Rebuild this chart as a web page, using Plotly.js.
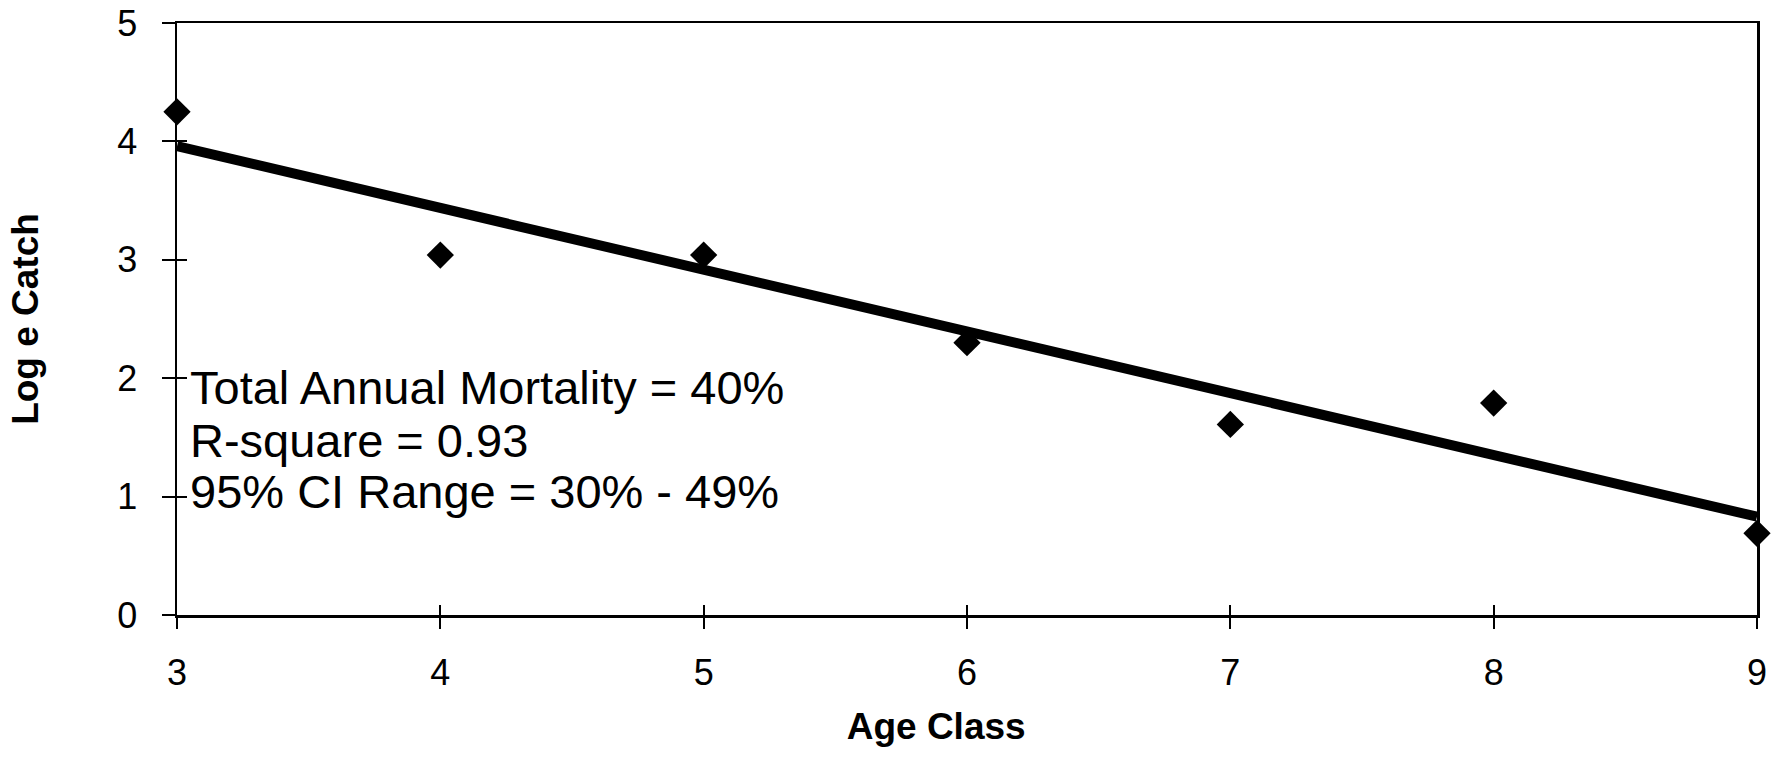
<!DOCTYPE html>
<html>
<head>
<meta charset="utf-8">
<script src="https://cdn.plot.ly/plotly-3.0.1.min.js"></script>
<style>
  html, body { margin: 0; padding: 0; background: #ffffff; }
  #chart { width: 1792px; height: 760px; }
</style>
</head>
<body>
<div id="chart"></div>
<script>
// Data
const ageClass = [3, 4, 5, 6, 7, 8, 9];
const logCatch = [4.25, 3.04, 3.04, 2.30, 1.61, 1.79, 0.69];
const trendAge = [3, 9];
const trendLogCatch = [3.96, 0.83];
const xTicks = [3, 4, 5, 6, 7, 8, 9];
const yTicks = [0, 1, 2, 3, 4, 5];
const statLines = [
  "Total Annual Mortality = 40%",
  "R-square = 0.93",
  "95% CI Range = 30% - 49%"
];
const statY = [1.92, 1.47, 1.04];

const FONT = "Liberation Sans, Arial, Helvetica, sans-serif";
const NBSP = "\u00A0";

const traces = [
  {
    x: trendAge, y: trendLogCatch,
    type: "scatter", mode: "lines",
    line: { color: "#000000", width: 10 },
    cliponaxis: false,
    hoverinfo: "skip", showlegend: false,
    xaxis: "x", yaxis: "y"
  },
  {
    x: ageClass, y: logCatch,
    type: "scatter", mode: "markers",
    marker: { symbol: "diamond", size: 21, color: "#000000" },
    cliponaxis: false,
    showlegend: false,
    xaxis: "x2", yaxis: "y2"
  }
];

const baseX = {
  range: [3, 9], tickvals: xTicks, ticktext: xTicks.map(String),
  showgrid: false, zeroline: false, fixedrange: true
};
const baseY = {
  range: [0, 5], tickvals: yTicks, ticktext: yTicks.map(String),
  showgrid: false, zeroline: false, fixedrange: true
};

const layout = {
  width: 1792, height: 760,
  paper_bgcolor: "#ffffff", plot_bgcolor: "#ffffff",
  margin: { l: 177, r: 35, t: 23, b: 145 },
  font: { family: FONT, color: "#000000", size: 36 },
  showlegend: false,
  xaxis: Object.assign({}, baseX, {
    ticks: "outside", ticklen: 11, tickwidth: 2, tickcolor: "#000000",
    showline: true, linewidth: 2.5, linecolor: "#000000", mirror: true,
    tickfont: { family: FONT, size: 36, color: "#000000" },
    ticklabelstandoff: 13,
    title: { text: "<b>Age Class" + NBSP.repeat(6) + "\u200B</b>", font: { family: FONT, size: 37, color: "#000000" }, standoff: 22 }
  }),
  yaxis: Object.assign({}, baseY, {
    ticks: "outside", ticklen: 13, tickwidth: 2, tickcolor: "#000000",
    showline: true, linewidth: 2.5, linecolor: "#000000", mirror: true,
    tickfont: { family: FONT, size: 36, color: "#000000" },
    ticklabelstandoff: 17,
    title: { text: "<b>Log e Catch</b>", font: { family: FONT, size: 37, color: "#000000" }, standoff: 68 }
  }),
  xaxis2: Object.assign({}, baseX, {
    overlaying: "x", anchor: "y2", side: "bottom",
    ticks: "inside", ticklen: 10, tickwidth: 2, tickcolor: "#000000",
    showticklabels: false, showline: false
  }),
  yaxis2: Object.assign({}, baseY, {
    overlaying: "y", anchor: "x2", side: "left",
    ticks: "inside", ticklen: 10, tickwidth: 2, tickcolor: "#000000",
    showticklabels: false, showline: false
  }),
  annotations: statLines.map((t, i) => ({
    text: t, xref: "x", yref: "y", x: 3, y: statY[i],
    xanchor: "left", yanchor: "middle", xshift: 11,
    showarrow: false,
    font: { family: FONT, size: 47, color: "#000000" }
  }))
};

Plotly.newPlot("chart", traces, layout, { displayModeBar: false, staticPlot: true });
</script>
</body>
</html>
